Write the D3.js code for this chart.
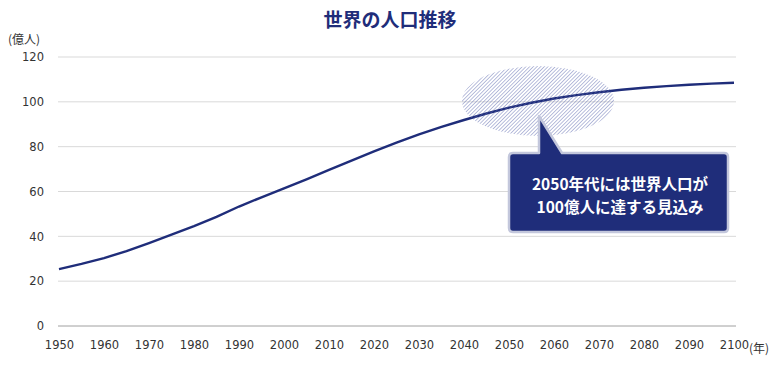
<!DOCTYPE html>
<html>
<head>
<meta charset="utf-8">
<script src="https://cdn.jsdelivr.net/npm/d3@7"></script>
<style>
  body { margin: 0; background: #fff; }
  text { font-family: "Noto Sans CJK JP", "Noto Sans", sans-serif; }
</style>
</head>
<body>
<script>
// world population (億人), every 5 years
var years = [1950,1955,1960,1965,1970,1975,1980,1985,1990,1995,2000,2005,2010,2015,2020,2025,2030,2035,2040,2045,2050,2055,2060,2065,2070,2075,2080,2085,2090,2095,2100];
var population = [25.4,27.7,30.3,33.4,37.0,40.8,44.6,48.7,53.3,57.4,61.4,65.4,69.6,73.8,77.9,81.8,85.5,88.8,91.9,94.8,97.4,99.6,101.5,103.0,104.3,105.4,106.3,107.0,107.6,108.1,108.5];
var yTicks = [0,20,40,60,80,100,120];
var xTicks = [1950,1960,1970,1980,1990,2000,2010,2020,2030,2040,2050,2060,2070,2080,2090,2100];
var title = '世界の人口推移';
var noteLines = ['2050年代には世界人口が', '100億人に達する見込み'];

var width = 780, height = 372;
var navy = '#1f2d7a';
var tickFont = '"DejaVu Sans", Verdana, sans-serif';

var svg = d3.select('body').append('svg')
  .attr('width', width)
  .attr('height', height);

var x = d3.scaleLinear().domain([1950, 2100]).range([59, 734]);
var y = d3.scaleLinear().domain([0, 120]).range([326, 57]);

svg.append('text')
  .attr('x', 390).attr('y', 27)
  .attr('text-anchor', 'middle')
  .attr('font-size', 19).attr('font-weight', 'bold')
  .attr('fill', navy)
  .text(title);

// grid
svg.selectAll('.grid')
  .data(yTicks.filter(d => d > 0))
  .enter().append('line')
  .attr('x1', 58).attr('x2', 736)
  .attr('y1', d => y(d)).attr('y2', d => y(d))
  .attr('stroke', '#d9d9d9').attr('stroke-width', 1);

svg.append('line')
  .attr('x1', 58).attr('x2', 736)
  .attr('y1', y(0)).attr('y2', y(0))
  .attr('stroke', '#a0a0a0').attr('stroke-width', 1);

var yAxis = d3.axisLeft(y).tickValues(yTicks).tickSize(0).tickPadding(14);
svg.append('g')
  .attr('transform', 'translate(58,0)')
  .call(yAxis)
  .call(g => g.select('.domain').remove())
  .selectAll('text')
  .attr('font-size', 11.5).attr('fill', '#333')
  .style('font-family', tickFont);

var xAxis = d3.axisBottom(x).tickValues(xTicks).tickSize(0).tickPadding(15).tickFormat(d3.format('d'));
svg.append('g')
  .attr('transform', 'translate(0,' + y(0) + ')')
  .call(xAxis)
  .call(g => g.select('.domain').remove())
  .selectAll('text')
  .attr('font-size', 11.5).attr('fill', '#333')
  .style('font-family', tickFont);

svg.append('text')
  .attr('x', 8).attr('y', 44)
  .attr('font-size', 12).attr('fill', '#333')
  .text('(億人)');

svg.append('text')
  .attr('x', 749).attr('y', 353)
  .attr('font-size', 12).attr('fill', '#333')
  .text('(年)');

// hatch pattern
var defs = svg.append('defs');
var pat = defs.append('pattern')
  .attr('id', 'hatch')
  .attr('patternUnits', 'userSpaceOnUse')
  .attr('width', 2.6).attr('height', 2.6)
  .attr('patternTransform', 'rotate(45)');
pat.append('line')
  .attr('x1', 0).attr('y1', 0).attr('x2', 0).attr('y2', 2.6)
  .attr('stroke', '#5864ad').attr('stroke-width', 1);

var line = d3.line()
  .x((d, i) => x(years[i]))
  .y(d => y(d));

svg.append('path')
  .datum(population)
  .attr('d', line)
  .attr('fill', 'none')
  .attr('stroke', navy)
  .attr('stroke-width', 2.4);

svg.append('ellipse')
  .attr('cx', 538).attr('cy', 101)
  .attr('rx', 76).attr('ry', 35)
  .attr('fill', 'url(#hatch)')
  .attr('opacity', 0.85);

// callout
var bx = 509, by = 153, bw = 219, bh = 79;
svg.append('path')
  .attr('d', 'M' + (bx + 4) + ',' + by +
    ' L539,' + by + ' L539,116 L562,' + by +
    ' L' + (bx + bw - 4) + ',' + by +
    ' Q' + (bx + bw) + ',' + by + ' ' + (bx + bw) + ',' + (by + 4) +
    ' L' + (bx + bw) + ',' + (by + bh - 4) +
    ' Q' + (bx + bw) + ',' + (by + bh) + ' ' + (bx + bw - 4) + ',' + (by + bh) +
    ' L' + (bx + 4) + ',' + (by + bh) +
    ' Q' + bx + ',' + (by + bh) + ' ' + bx + ',' + (by + bh - 4) +
    ' L' + bx + ',' + (by + 4) +
    ' Q' + bx + ',' + by + ' ' + (bx + 4) + ',' + by + ' Z')
  .attr('fill', navy)
  .attr('stroke', '#c3c7dc')
  .attr('stroke-width', 2.5)
  .attr('stroke-linejoin', 'round');

svg.selectAll('.note')
  .data(noteLines)
  .enter().append('text')
  .attr('x', 620)
  .attr('y', (d, i) => 190 + i * 23)
  .attr('text-anchor', 'middle')
  .attr('font-size', 15.5).attr('font-weight', 'bold')
  .attr('fill', '#fff')
  .text(d => d);
</script>
</body>
</html>
